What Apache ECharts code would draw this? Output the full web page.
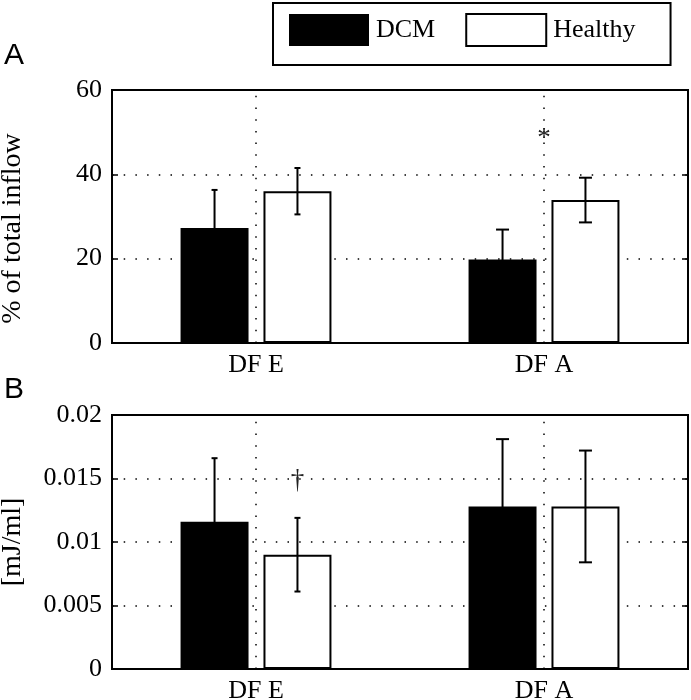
<!DOCTYPE html>
<html>
<head>
<meta charset="utf-8">
<script src="https://cdn.jsdelivr.net/npm/echarts@6/dist/echarts.min.js"></script>
<style>
  html, body { margin: 0; padding: 0; background: #fff; }
  #chart { width: 691px; height: 700px; }
</style>
</head>
<body>
<div id="chart"></div>
<script>
// categories and groups
var categories = ['DF E', 'DF A'];
var groupNames = ['DCM', 'Healthy'];

// panel A: % of total inflow (mean, +/- sd)
var inflowDCM = [27.3, 19.8];
var inflowDCMErr = [9.0, 7.1];
var inflowHealthy = [36.0, 33.9];
var inflowHealthyErr = [5.5, 5.3];

// panel B: energy [mJ/ml]
var energyDCM = [0.0116, 0.0128];
var energyDCMErr = [0.0050, 0.0053];
var energyHealthy = [0.0090, 0.0128];
var energyHealthyErr = [0.0029, 0.0044];

// y axis ticks
var ticksA = [0, 20, 40, 60];
var ticksB = [0, 0.005, 0.01, 0.015, 0.02];

// significance marks: [category index, group (-1 DCM, 0 centre, 1 Healthy), value, text]
var marksA = [[1, 0, 49.8, '*']];
var marksB = [[0, 1, 0.0153, '\u2020']];

var serif = "'Liberation Serif', 'DejaVu Serif', serif";
var BAR_W = 0.236;   // bar width / band
var BAR_GAP = 0.22;  // gap / bar width
var capHalf = [3, 6.5]; // half width of error bar caps per category

function errData(vals, errs, grp) {
    var out = [];
    for (var i = 0; i < vals.length; i++) out.push([i, vals[i], errs[i], grp]);
    return out;
}

function groupOffset(api, grp) {
    var band = api.size([1, 0])[0];
    var bw = band * BAR_W;
    return grp * (bw / 2 + bw * BAR_GAP / 2);
}

function renderErr(params, api) {
    var cat = api.value(0), v = api.value(1), e = api.value(2), grp = api.value(3);
    var dx = groupOffset(api, grp);
    var top = api.coord([cat, v + e]);
    var bot = api.coord([cat, v - e]);
    var x = top[0] + dx;
    var c = capHalf[cat];
    var st = { stroke: '#000', lineWidth: 2 };
    return {
        type: 'group',
        children: [
            { type: 'line', shape: { x1: x, y1: top[1], x2: x, y2: bot[1] }, style: st },
            { type: 'line', shape: { x1: x - c, y1: top[1], x2: x + c, y2: top[1] }, style: st },
            { type: 'line', shape: { x1: x - c, y1: bot[1], x2: x + c, y2: bot[1] }, style: st }
        ]
    };
}

function renderMark(params, api) {
    var cat = api.value(0), grp = api.value(1), v = api.value(2);
    var p = api.coord([cat, v]);
    var m = params.dataIndex;
    var list = params.seriesName === 'marksA' ? marksA : marksB;
    return {
        type: 'text',
        x: p[0] + groupOffset(api, grp),
        y: p[1] + 6,
        style: { text: list[m][3], font: '27px ' + serif, fill: '#222', align: 'center', verticalAlign: 'middle' }
    };
}

function xAxes(gridIndex) {
    var base = {
        type: 'category', data: categories, gridIndex: gridIndex,
        axisLine: { lineStyle: { color: '#000', width: 2 } },
        axisTick: { inside: true, alignWithLabel: true, length: 6, lineStyle: { color: '#000', width: 2 } }
    };
    return [
        Object.assign({}, base, {
            position: 'bottom',
            axisLabel: { color: '#000', fontFamily: serif, fontSize: 26, margin: 9 }
        }),
        Object.assign({}, base, { position: 'top', axisLabel: { show: false } })
    ];
}

function yAxes(gridIndex, ticks, name, gap, namePad) {
    var base = {
        type: 'value', gridIndex: gridIndex,
        min: ticks[0], max: ticks[ticks.length - 1], interval: ticks[1] - ticks[0],
        axisLine: { show: true, lineStyle: { color: '#000', width: 2 } },
        axisTick: { show: true, inside: true, length: 6, lineStyle: { color: '#000', width: 1.5 } }
    };
    return [
        Object.assign({}, base, {
            position: 'left',
            name: name, nameLocation: 'middle', nameGap: gap,
            nameTextStyle: { color: '#000', fontFamily: serif, fontSize: 28, padding: namePad },
            axisLabel: {
                color: '#000', fontFamily: serif, fontSize: 26, margin: 10,
                formatter: function (v) { return String(+v.toFixed(3)); }
            },
            splitLine: { show: true, lineStyle: { color: '#000', width: 1.5, type: [1.5, 10.2] } }
        }),
        Object.assign({}, base, { position: 'right', axisLabel: { show: false }, splitLine: { show: false } })
    ];
}

// vertical dotted lines at category centres (own series so bars do not shift them)
function catLineSeries(xi, yi) {
    return {
        type: 'line', xAxisIndex: xi, yAxisIndex: yi, data: [], silent: true,
        markLine: {
            silent: true, symbol: 'none', label: { show: false },
            lineStyle: { color: '#000', width: 1.5, type: [1.5, 10.2] },
            data: categories.map(function (c) { return { xAxis: c }; })
        }
    };
}

function barSeries(name, values, xi, yi) {
    return {
        name: name, type: 'bar', xAxisIndex: xi, yAxisIndex: yi,
        data: values, barWidth: (BAR_W * 100) + '%', barGap: (BAR_GAP * 100) + '%',
        itemStyle: name === 'DCM'
            ? { color: '#000', borderColor: '#000', borderWidth: 0 }
            : { color: '#fff', borderColor: '#000', borderWidth: 2 }
    };
}

var chart = echarts.init(document.getElementById('chart'), null, { renderer: 'canvas' });

var gridBase = { left: 112, right: 3, show: true, borderColor: '#000', borderWidth: 2,
    backgroundColor: 'transparent', containLabel: false, outerBoundsMode: 'none' };

var option = {
    animation: false,
    backgroundColor: '#fff',
    legend: {
        data: [
            { name: 'DCM', itemStyle: { color: '#000', borderColor: '#000', borderWidth: 0 } },
            { name: 'Healthy', itemStyle: { color: '#fff', borderColor: '#000', borderWidth: 2 } }
        ],
        left: 273, top: 3,
        icon: 'rect', itemWidth: 80, itemHeight: 32, itemGap: 30,
        padding: [10, 35, 18, 16],
        borderColor: '#000', borderWidth: 2, borderRadius: 0,
        textStyle: { color: '#000', fontFamily: serif, fontSize: 26, padding: [0, 0, 0, 2] }
    },
    graphic: [
        { type: 'text', left: 4, top: 41, style: { text: 'A', font: '30px "Liberation Sans", Arial, sans-serif', fill: '#000' } },
        { type: 'text', left: 4, top: 375, style: { text: 'B', font: '30px "Liberation Sans", Arial, sans-serif', fill: '#000' } }
    ],
    grid: [
        Object.assign({}, gridBase, { top: 90, height: 253 }),
        Object.assign({}, gridBase, { top: 415, height: 254 })
    ],
    xAxis: xAxes(0).concat(xAxes(1)),
    yAxis: yAxes(0, ticksA, '% of total inflow', 85, [0, 24, 0, 0])
        .concat(yAxes(1, ticksB, '[mJ/ml]', 85, 0)),
    series: [
        catLineSeries(0, 0),
        catLineSeries(2, 2),
        barSeries('DCM', inflowDCM, 0, 0),
        barSeries('Healthy', inflowHealthy, 0, 0),
        barSeries('DCM', energyDCM, 2, 2),
        barSeries('Healthy', energyHealthy, 2, 2),
        { type: 'custom', name: 'errA', xAxisIndex: 0, yAxisIndex: 0, z: 5, silent: true,
          renderItem: renderErr,
          data: errData(inflowDCM, inflowDCMErr, -1).concat(errData(inflowHealthy, inflowHealthyErr, 1)) },
        { type: 'custom', name: 'errB', xAxisIndex: 2, yAxisIndex: 2, z: 5, silent: true,
          renderItem: renderErr,
          data: errData(energyDCM, energyDCMErr, -1).concat(errData(energyHealthy, energyHealthyErr, 1)) },
        { type: 'custom', name: 'marksA', xAxisIndex: 0, yAxisIndex: 0, z: 5, silent: true,
          renderItem: renderMark, data: marksA.map(function (m) { return [m[0], m[1], m[2]]; }) },
        { type: 'custom', name: 'marksB', xAxisIndex: 2, yAxisIndex: 2, z: 5, silent: true,
          renderItem: renderMark, data: marksB.map(function (m) { return [m[0], m[1], m[2]]; }) }
    ]
};

chart.setOption(option);
</script>
</body>
</html>
